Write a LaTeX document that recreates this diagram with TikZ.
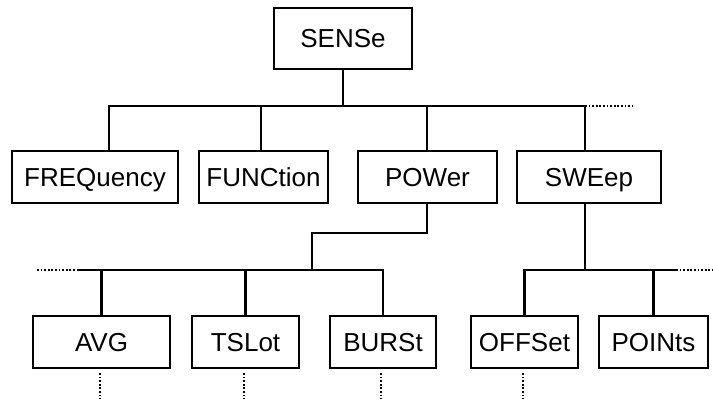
\documentclass[tikz,border=0pt]{standalone}
\usepackage{fontspec}
\setmainfont{Liberation Sans}
\usetikzlibrary{calc}

\begin{document}
\begin{tikzpicture}[x=1pt,y=-1pt,
  cmd/.style={draw,line width=2.1pt,inner sep=0pt,minimum height=52pt,
    text height=18.6pt,text depth=0pt,font=\fontsize{26}{30}\selectfont},
  link/.style={line width=2.1pt},
  more/.style={line width=2pt,dash pattern=on 1.8pt off 1.8pt}]
\useasboundingbox (0,0) rectangle (713,399);

\node[cmd,minimum width=138pt,minimum height=61pt] (sense) at (343,38.5) {SENSe};

\node[cmd,minimum width=166pt] (freq)  at (95,177)    {FREQuency};
\node[cmd,minimum width=129pt] (func)  at (263.5,177) {FUNCtion};
\node[cmd,minimum width=139pt] (pow)   at (427.5,177) {POWer};
\node[cmd,minimum width=144pt] (sweep) at (589,177)   {SWEep};

\node[cmd,minimum width=137pt] (avg)   at (101.5,342) {AVG};
\node[cmd,minimum width=107pt] (tsl)   at (245.5,342) {TSLot};
\node[cmd,minimum width=106pt] (burst) at (383,342)   {BURSt};
\node[cmd,minimum width=107pt] (offs)  at (524.5,342) {OFFSet};
\node[cmd,minimum width=109pt] (pts)   at (653.5,342) {POINts};

\coordinate (tf) at (109,106);
\coordinate (tu) at (261,106);
\coordinate (tp) at (427,106);
\coordinate (ts) at (585,106);
\coordinate (te) at (632,106);

\coordinate (k)  at (312,233);
\coordinate (la) at (37,270);
\coordinate (lb) at (78,270);
\coordinate (rb) at (585,270);
\coordinate (rc) at (676,270);
\coordinate (rd) at (713,270);
\coordinate (bot) at (0,399);

\draw[link] (sense.south) -- (sense.south |- tf);
\draw[link] (freq.north -| tf) -- (tf) -- (ts) -- (sweep.north -| ts);
\draw[link] (func.north -| tu) -- (tu);
\draw[link] (pow.north -| tp) -- (tp);
\draw[more] (ts) -- (te);

\draw[link] (pow.south -| tp) |- (k) -- (k |- lb);
\draw[link] (lb) -- (burst.north |- lb) -- (burst.north);
\draw[link] (avg.north) -- (avg.north |- lb);
\draw[link] (tsl.north) -- (tsl.north |- lb);
\draw[more] (la) -- (lb);

\draw[link] (sweep.south -| rb) -- (rb);
\draw[link] (offs.north) |- (rc);
\draw[link] (pts.north) -- (pts.north |- rc);
\draw[more] (rc) -- (rd);

\foreach \n in {avg,tsl,burst,offs}
  \draw[more] ([xshift=-2pt,yshift=-4pt]\n.south) -- ([xshift=-2pt]\n.south |- bot);

\end{tikzpicture}
\end{document}
